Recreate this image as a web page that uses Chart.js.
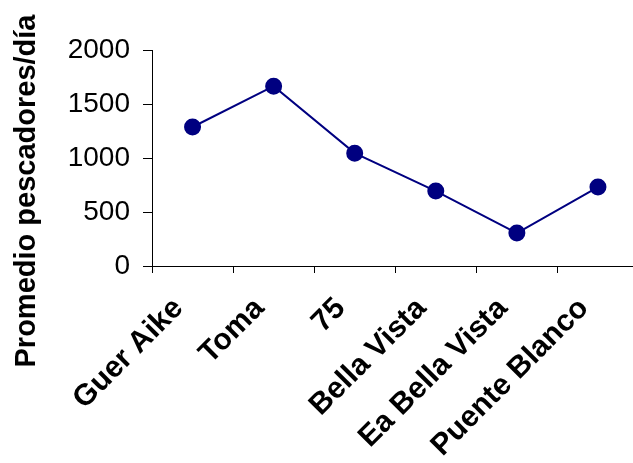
<!DOCTYPE html>
<html>
<head>
<meta charset="utf-8">
<script src="https://cdn.jsdelivr.net/npm/chart.js@4"></script>
<style>
  html, body { margin: 0; padding: 0; background: #fff; overflow: hidden; }
  #wrap { width: 648px; height: 463px; }
</style>
</head>
<body>
<div id="wrap"><canvas id="fishChart" width="648" height="463"></canvas></div>
<script>
  // Data
  const sites = ["Guer Aike", "Toma", "75", "Bella Vista", "Ea Bella Vista", "Puente Blanco"];
  const avgFishers = [1287, 1665, 1045, 694, 305, 731];
  const yTicks = [0, 500, 1000, 1500, 2000];
  const yTitle = "Promedio pescadores/día";

  // y title sits lower than the plot centre in the original, so draw it by hand
  const yTitlePlugin = {
    id: "yTitlePlugin",
    afterDraw(chart) {
      const c = chart.ctx;
      c.save();
      c.translate(27, 191);
      c.rotate(-Math.PI / 2);
      c.font = "bold 29px 'Liberation Sans', Arial";
      c.fillStyle = "#000";
      c.textAlign = "center";
      c.textBaseline = "middle";
      c.fillText(yTitle, 0, 0);
      c.restore();
    },
  };

  const ctx = document.getElementById("fishChart").getContext("2d");
  const fishChart = new Chart(ctx, {
    type: "line",
    data: {
      labels: sites,
      datasets: [
        {
          label: yTitle,
          data: avgFishers,
          borderColor: "#000080",
          backgroundColor: "#000080",
          borderWidth: 2,
          pointRadius: 7.5,
          pointBackgroundColor: "#000080",
          pointBorderColor: "#000080",
          tension: 0,
          fill: false,
        },
      ],
    },
    plugins: [yTitlePlugin],
    options: {
      responsive: false,
      animation: false,
      layout: { padding: { top: 50, right: 0, bottom: 0, left: 0 } },
      plugins: {
        legend: { display: false },
        tooltip: { enabled: false },
      },
      scales: {
        x: {
          offset: true,
          grid: {
            offset: true,
            drawOnChartArea: false,
            color: "#000",
            tickLength: 7,
          },
          border: { color: "#000", width: 1 },
          ticks: {
            color: "#000",
            font: { family: "'Liberation Sans', Arial", size: 30, weight: "bold" },
            maxRotation: 45,
            minRotation: 45,
            autoSkip: false,
            padding: 18,
            labelOffset: -14,
          },
          afterFit: (scale) => { scale.height = 197; },
        },
        y: {
          min: 0,
          max: 2000,
          afterBuildTicks: (scale) => { scale.ticks = yTicks.map((v) => ({ value: v })); },
          grid: {
            drawOnChartArea: false,
            color: "#000",
            tickLength: 9,
          },
          border: { color: "#000", width: 1 },
          ticks: {
            color: "#000",
            font: { family: "'Liberation Sans', Arial", size: 28 },
            padding: 13,
            callback: (v) => String(v),
          },
          afterFit: (scale) => { scale.width = 152; },
        },
      },
    },
  });
</script>
</body>
</html>
